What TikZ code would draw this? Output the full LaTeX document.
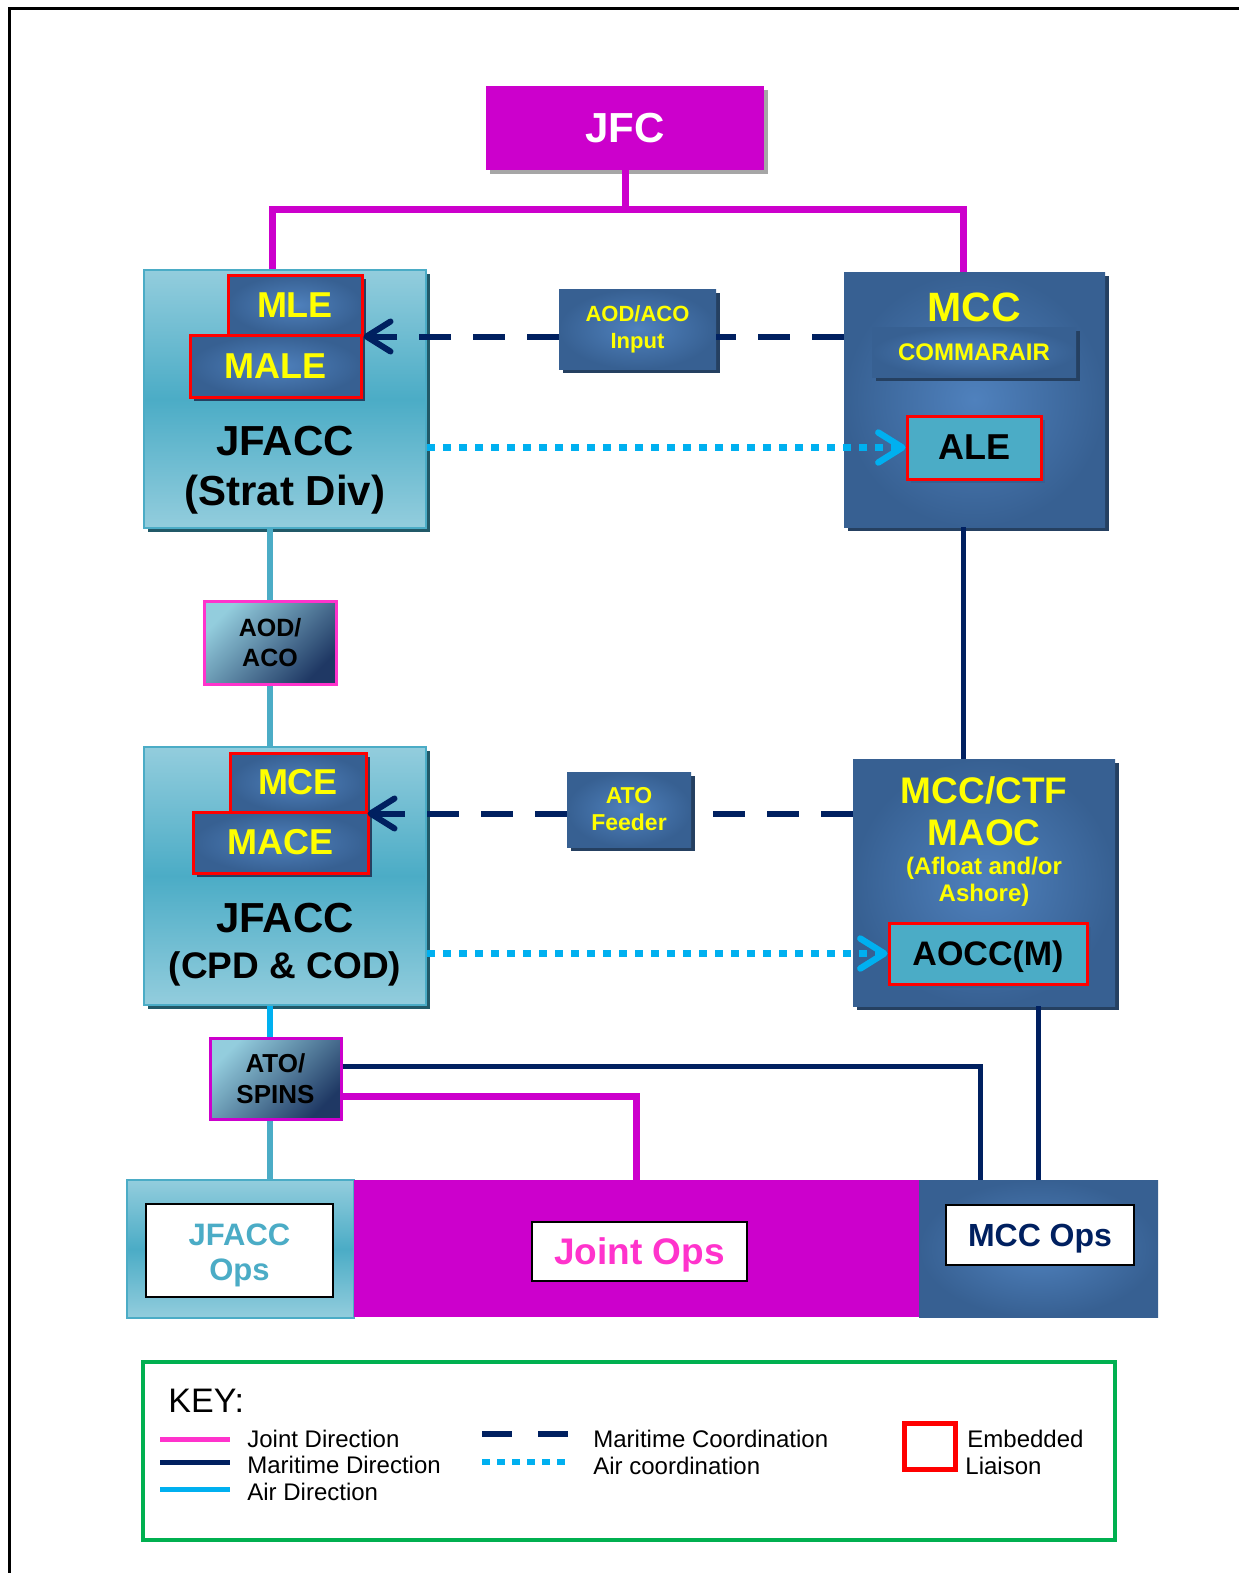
\documentclass[tikz,border=0pt]{standalone}
\usepackage{fontspec}
\setmainfont{Liberation Sans}
\usetikzlibrary{arrows.meta,shadows,calc}

\definecolor{jointmag}{HTML}{CC00CC}
\definecolor{jointpink}{HTML}{FF33CC}
\definecolor{marinavy}{HTML}{002060}
\definecolor{airblue}{HTML}{00B0F0}
\definecolor{aqua}{HTML}{4BACC6}
\definecolor{aqualight}{HTML}{93CDDD}
\definecolor{steel}{HTML}{376092}
\definecolor{steellight}{HTML}{4F81BD}
\definecolor{steeldark}{HTML}{254061}
\definecolor{navydark}{HTML}{1F3864}
\definecolor{tealdark}{HTML}{215968}
\definecolor{keygreen}{HTML}{00B050}
\definecolor{labelyellow}{HTML}{FFFF00}
\definecolor{liaisonred}{HTML}{FF0000}
\definecolor{shadowgrey}{HTML}{A6A6A6}

\newcommand{\setfs}[2]{\fontsize{#1}{#2}\selectfont}

\tikzset{
  box/.style={rectangle, inner sep=0pt, align=center},
  jfcbox/.style={box, fill=jointmag, text=white,
    drop shadow={shadow xshift=2pt, shadow yshift=-2pt, fill=shadowgrey, opacity=1}},
  aquabox/.style={box, draw=aqua, line width=1pt,
    top color=aqualight, bottom color=aqualight, middle color=aqua,
    drop shadow={shadow xshift=2pt, shadow yshift=-2pt, fill=tealdark, opacity=1}},
  steelbox/.style={box, inner color=steellight, outer color=steel,
    drop shadow={shadow xshift=2pt, shadow yshift=-2pt, fill=steeldark, opacity=1}},
  liaison/.style={draw=liaisonred, line width=1.5pt},
  yellowtext/.style={text=labelyellow},
  prodbox/.style={box, draw=#1, line width=1.5pt,
    top color=aqualight, bottom color=navydark, shading angle=45},
  opsbox/.style={box, fill=white, draw=black, line width=1pt},
  jointdir/.style={draw=jointmag, line width=3.5pt},
  maridir/.style={draw=marinavy, line width=2.5pt},
  airdir/.style={draw=airblue, line width=3pt},
  aqualink/.style={draw=aqua, line width=3pt},
  maricoord/.style={draw=marinavy, line width=3pt, dash pattern=on 16pt off 11pt},
  aircoord/.style={draw=airblue, line width=3.2pt, dash pattern=on 4pt off 4pt},
  barb/.style={-{Straight Barb[length=12pt,width=15pt,round]}},
  keytext/.style={anchor=west, inner sep=0pt, font=\setfs{12}{14}}
}

\begin{document}
\begin{tikzpicture}[x=0.5pt,y=-0.5pt]
\useasboundingbox (0,0) rectangle (1239,1573);
\draw[line width=1.5pt] (9,1573) -- (9,9) -- (1239,9);

% Commanders
\node[jfcbox, minimum width=139pt, minimum height=42pt, font=\bfseries\setfs{21}{25}] (jfc) at (625,128) {JFC};
\node[aquabox, minimum width=141pt, minimum height=129pt] (jfaccA) at (285,399) {};
\node[steelbox, minimum width=130.5pt, minimum height=127.5pt] (mcc) at (974.5,399.5) {};
\node[aquabox, minimum width=141pt, minimum height=129pt] (jfaccB) at (285,876) {};
\node[steelbox, minimum width=131pt, minimum height=123.5pt] (maoc) at (984,882.5) {};

% Cells
\node[steelbox, liaison, yellowtext, minimum width=67pt, minimum height=30pt, font=\bfseries\setfs{18}{21}] (mle) at (295,305) {MLE};
\node[steelbox, liaison, yellowtext, minimum width=85.5pt, minimum height=31pt, font=\bfseries\setfs{18}{21}] (male) at (275.5,366) {MALE};
\node[box, font=\bfseries\setfs{21}{25}] (jfaccAtext) at (285,470) {JFACC\\(Strat Div)};
\node[box, yellowtext, font=\bfseries\setfs{20.5}{24}] (mcctitle) at (974.5,307) {MCC};
\node[steelbox, yellowtext, minimum width=102pt, minimum height=25pt, font=\bfseries\setfs{12}{14}] (commarair) at (974,352) {COMMARAIR};
\node[box, liaison, fill=aqua, minimum width=67pt, minimum height=31.5pt, font=\bfseries\setfs{18}{21}, text depth=0pt,
  drop shadow={shadow xshift=2pt, shadow yshift=-2pt, fill=steel, opacity=1}] (ale) at (974,447.5) {ALE};
\node[steelbox, liaison, yellowtext, minimum width=68pt, minimum height=29.5pt, font=\bfseries\setfs{18}{21}] (mce) at (298,782.5) {MCE};
\node[steelbox, liaison, yellowtext, minimum width=87.5pt, minimum height=30.5pt, font=\bfseries\setfs{18}{21}] (mace) at (280.5,842.5) {MACE};
\node[box, font=\bfseries\setfs{21}{23}] (jfaccBtext) at (285,945) {JFACC\\\setfs{18.5}{23}(CPD \& COD)};
\node[box, yellowtext, font=\bfseries\setfs{18.5}{21}] (maoctitle) at (984,811) {MCC/CTF\\MAOC};
\node[box, yellowtext, font=\bfseries\setfs{12}{13.5}] (maocsub) at (984,882) {(Afloat and/or\\Ashore)};
\node[box, liaison, fill=aqua, minimum width=99pt, minimum height=30.5pt, font=\bfseries\setfs{17}{20}, text depth=0pt,
  drop shadow={shadow xshift=2pt, shadow yshift=-2pt, fill=steel, opacity=1}] (aocc) at (988,953.5) {AOCC(M)};

% Products
\node[steelbox, yellowtext, minimum width=78.5pt, minimum height=40pt, font=\bfseries\setfs{11}{13.5}] (aodin) at (637.5,329) {AOD/ACO\\Input};
\node[steelbox, yellowtext, minimum width=62pt, minimum height=37.5pt, font=\bfseries\setfs{11.5}{13.5}] (atofeed) at (629,809.5) {ATO\\Feeder};
\node[prodbox=jointpink, minimum width=66pt, minimum height=41.5pt, font=\bfseries\setfs{12.5}{15}] (aodaco) at (270,642.5) {AOD/\\ACO};
\node[prodbox=jointmag, minimum width=65.5pt, minimum height=40.5pt, font=\bfseries\setfs{13}{15.5}] (spins) at (275.5,1078.5) {ATO/\\SPINS};

% Operations
\node[box, draw=aqua, line width=1pt, top color=aqualight, bottom color=aqualight, middle color=aqua,
  minimum width=113.5pt, minimum height=69pt] (jfaccops) at (240.5,1249) {};
\node[box, fill=jointmag, minimum width=282.5pt, minimum height=68.5pt] (jointops) at (636.5,1248.5) {};
\node[box, inner color=steellight, outer color=steel, minimum width=119.5pt, minimum height=68.5pt] (mccops) at (1038.5,1248.5) {};
\node[opsbox, minimum width=93.5pt, minimum height=46.5pt] (jfaccopsbox) at (239.5,1250.5) {};
\node[box, text=aqua, font=\bfseries\setfs{15.5}{17.5}] (jfaccopstext) at (239.5,1255) {JFACC\\Ops};
\node[opsbox, text=jointpink, minimum width=107.5pt, minimum height=29.5pt, font=\bfseries\setfs{18.5}{21}, text depth=0pt] (jointbox) at (639.5,1251.5) {Joint Ops};
\node[opsbox, text=marinavy, minimum width=94pt, minimum height=30pt, font=\bfseries\setfs{16}{19}, text depth=0pt] (mccbox) at (1040,1235) {MCC Ops};

% Direction
\coordinate (split) at (625,210);
\draw[jointdir] (jfc.south) -- (split);
\draw[jointdir] ($(jfaccA.north)+(-13,0)$) |- (split) -| ($(mcc.north)+(-11.5,0)$);
\draw[aqualink] (aodaco.north) -- (aodaco.north |- jfaccA.south);
\draw[aqualink] (aodaco.south) -- (aodaco.south |- jfaccB.north);
\coordinate (mccdown) at ($(mcc.south)+(-11.5,0)$);
\draw[maridir] (mccdown) -- (mccdown |- maoc.north);
\draw[airdir] (jfaccB.south -| aodaco.south) -- (spins.north -| aodaco.south);
\draw[aqualink] (spins.south -| aodaco.south) -- (jfaccops.north -| aodaco.south);
\draw[maridir] ($(spins.east)+(0,-12.5)$) -| ($(mccops.north)+(-58.5,0)$);
\draw[jointdir] ($(spins.east)+(0,17.5)$) -| (jointops.north);
\draw[maridir] (mccops.north) -- (mccops.north |- maoc.south);

% Coordination
\draw[maricoord] (mle.south east -| mcc.west) -- (mle.south east -| aodin.east);
\draw[maricoord, barb] (mle.south east -| aodin.west) -- (mle.south east);
\draw[maricoord] (mce.south east -| maoc.west) -- (mce.south east -| atofeed.east);
\draw[maricoord, barb] (mce.south east -| atofeed.west) -- (mce.south east);
\draw[aircoord, barb] (ale.west -| jfaccA.east) -- (ale.west);
\draw[aircoord, barb] (aocc.west -| jfaccB.east) -- (aocc.west);

% Key
\node[box, draw=keygreen, line width=2pt, minimum width=486pt, minimum height=89pt] (key) at (629,1451) {};
\node[keytext, font=\setfs{17}{20}] (keytitle) at (168,1401) {KEY:};
\node[keytext] (kjoint) at (247,1439) {Joint Direction};
\node[keytext] (kmari) at (247,1465) {Maritime Direction};
\node[keytext] (kair) at (247,1492) {Air Direction};
\node[keytext] (kmaricoord) at (593,1439) {Maritime Coordination};
\node[keytext] (kaircoord) at (593,1466) {Air coordination};
\node[keytext] (kembed) at (967,1439) {Embedded};
\node[keytext] (kliaison) at (965,1466) {Liaison};
\draw[draw=jointpink, line width=2.5pt] (160,1439) -- (230,1439);
\draw[maridir] (160,1462) -- (230,1462);
\draw[airdir, line width=2.5pt] (160,1489) -- (230,1489);
\draw[maricoord, dash pattern=on 15pt off 13pt] (482,1434) -- (568,1434);
\draw[aircoord, dash pattern=on 4pt off 3.5pt] (482,1462) -- (568,1462);
\draw[liaisonred, line width=2.5pt] (904,1423) rectangle (955,1469);
\end{tikzpicture}
\end{document}
